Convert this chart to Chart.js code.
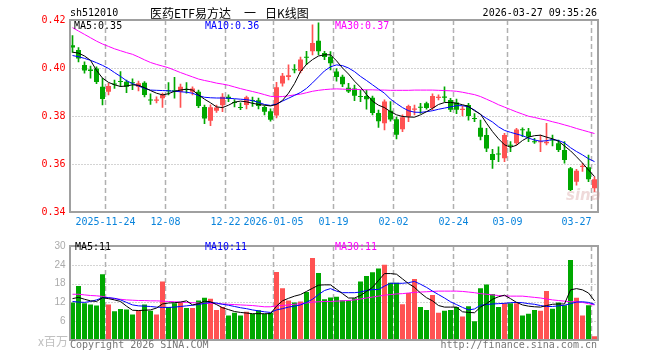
<!DOCTYPE html>
<html>
<head>
<meta charset="utf-8">
<script src="https://cdn.jsdelivr.net/npm/chart.js@4.4.1/dist/chart.umd.min.js"></script>
<style>
  body { margin: 0; background: #fff; width: 660px; height: 360px; position: relative; overflow: hidden; }
  canvas { position: absolute; left: 0; }
  .t { position: absolute; font: 10px "DejaVu Sans Mono", monospace; line-height: 12px; white-space: pre; }
  .cn { position: absolute; font: 12px "Noto Sans CJK SC", sans-serif; line-height: 14px; white-space: pre; }
</style>
</head>
<body>
<canvas id="k" width="660" height="236" style="top:0"></canvas>
<canvas id="v" width="660" height="124" style="top:236px"></canvas>

<div class="t" style="left:70px;top:7px">sh512010</div>
<div class="cn" style="left:150px;top:6px">医药ETF易方达</div>
<div class="cn" style="left:244px;top:6px">一</div>
<div class="cn" style="left:265px;top:6px">日K线图</div>
<div class="t" style="right:63px;top:7px">2026-03-27 09:35:26</div>

<div class="t" style="left:74px;top:20px;color:#000">MA5:0.35</div>
<div class="t" style="left:205px;top:20px;color:#00f">MA10:0.36</div>
<div class="t" style="left:335px;top:20px;color:#f0f">MA30:0.37</div>

<div class="t" style="left:75px;top:241px;color:#000">MA5:11</div>
<div class="t" style="left:205px;top:241px;color:#00f">MA10:11</div>
<div class="t" style="left:335px;top:241px;color:#f0f">MA30:11</div>

<div class="cn" style="left:38px;top:334px;color:#c0c0c0">x百万</div>
<div class="t" style="left:70px;top:339px;color:#777">Copyright 2026 SINA.COM</div>
<div class="t" style="right:63px;top:339px;color:#777">http://finance.sina.com.cn</div>
<div style="position:absolute;left:566px;top:186px;font:italic bold 15px 'DejaVu Sans',sans-serif;color:rgba(210,150,150,0.35)">sina</div>

<script>
// trading-day index -> axis label (only the labelled ones)
const tickIdx = [6, 16, 26, 34, 44, 54, 64, 73, 87];
const tickText = ['2025-11-24', '12-08', '12-22', '2026-01-05', '01-19', '02-02', '02-24', '03-09', '03-27'];

const opens = [
  .4095, .4075, .4013, .3994, .3998, .3922, .3901, .3935, .3946, .3943,
  .3940, .3922, .3939, .3869, .3864, .3874, .3907, .3907, .3901, .3912,
  .3901, .3901, .3838, .3780, .3822, .3845, .3880, .3858, .3837, .3846,
  .3866, .3866, .3838, .3820, .3802, .3935, .3962, .3995, .3987, .4047,
  .4070, .4114, .4063, .4047, .3985, .3964, .3918, .3915, .3883, .3883,
  .3876, .3812, .3770, .3822, .3786, .3745, .3798, .3826, .3838, .3853,
  .3833, .3875, .3881, .3867, .3856, .3825, .3846, .3792, .3751, .3721,
  .3642, .3644, .3624, .3680, .3686, .3745, .3735, .3695, .3691, .3686,
  .3702, .3686, .3658, .3582, .3526, .3588, .3586, .3499
];
const highs = [
  .4135, .4085, .4026, .4008, .4005, .3957, .3936, .3950, .3985, .3950,
  .3955, .3945, .3943, .3892, .3880, .3895, .3939, .3961, .3933, .3939,
  .3922, .3908, .3845, .3847, .3845, .3893, .3888, .3868, .3855, .3883,
  .3879, .3875, .3842, .3830, .3940, .3978, .4013, .4014, .4045, .4069,
  .4180, .4188, .4069, .4068, .3998, .3971, .3936, .3929, .3908, .3908,
  .3883, .3825, .3867, .3860, .3795, .3805, .3846, .3846, .3853, .3858,
  .3892, .3888, .3922, .3874, .3870, .3840, .3853, .3810, .3783, .3749,
  .3661, .3672, .3728, .3693, .3749, .3751, .3749, .3707, .3721, .3769,
  .3721, .3700, .3693, .3586, .3578, .3603, .3637, .3547
];
const lows = [
  .4065, .4025, .3978, .3958, .3935, .3846, .3888, .3915, .3922, .3897,
  .3910, .3905, .3880, .3848, .3855, .3836, .3888, .3874, .3836, .3895,
  .3888, .3835, .3768, .3760, .3815, .3818, .3860, .3838, .3826, .3830,
  .3840, .3830, .3805, .3778, .3792, .3924, .3950, .3979, .3979, .4014,
  .4055, .4055, .4035, .3992, .3945, .3922, .3897, .3864, .3860, .3828,
  .3804, .3752, .3742, .3778, .3705, .3735, .3776, .3804, .3811, .3828,
  .3825, .3867, .3860, .3818, .3810, .3800, .3783, .3776, .3700, .3651,
  .3582, .3610, .3610, .3651, .3679, .3714, .3693, .3686, .3651, .3679,
  .3675, .3651, .3603, .3489, .3512, .3569, .3526, .3485
];
const closes = [
  .4085, .4040, .3990, .3988, .3942, .3871, .3925, .3931, .3942, .3922,
  .3936, .3936, .3888, .3865, .3869, .3888, .3903, .3902, .3922, .3908,
  .3915, .3842, .3790, .3836, .3835, .3880, .3872, .3854, .3833, .3878,
  .3862, .3842, .3818, .3784, .3920, .3968, .3970, .3991, .4035, .4043,
  .4104, .4070, .4046, .4020, .3962, .3932, .3902, .3884, .3879, .3870,
  .3812, .3778, .3860, .3785, .3722, .3795, .3842, .3831, .3834, .3833,
  .3883, .3880, .3876, .3826, .3826, .3830, .3800, .3788, .3714, .3665,
  .3617, .3640, .3721, .3676, .3744, .3741, .3714, .3691, .3695, .3693,
  .3698, .3658, .3617, .3492, .3572, .3593, .3536, .3536
];

// moving averages
const ma5 = [
  .4066, .4062, .4050, .4032, .3990, .3958, .3940, .3930, .3923, .3925,
  .3930, .3928, .3918, .3906, .3895, .3888, .3893, .3903, .3908, .3912,
  .3908, .3888, .3870, .3855, .3838, .3835, .3845, .3858, .3862, .3859,
  .3853, .3848, .3845, .3842, .3848, .3865, .3895, .3935, .3985, .4015,
  .4035, .4050, .4055, .4055, .4030, .4000, .3975, .3945, .3920, .3890,
  .3862, .3845, .3835, .3818, .3805, .3798, .3796, .3795, .3805, .3818,
  .3832, .3848, .3856, .3857, .3853, .3847, .3840, .3822, .3808, .3770,
  .3735, .3705, .3680, .3670, .3678, .3698, .3712, .3718, .3720, .3712,
  .3705, .3695, .3675, .3655, .3630, .3604, .3575, .3548
];
const ma10 = [
  .4052, .4047, .4040, .4032, .4022, .4011, .3998, .3981, .3965, .3947,
  .3935, .3925, .3915, .3908, .3907, .3906, .3905, .3903, .3901, .3899,
  .3895, .3885, .3878, .3876, .3875, .3875, .3874, .3872, .3870, .3868,
  .3864, .3857, .3848, .3844, .3850, .3862, .3874, .3886, .3898, .3915,
  .3938, .3963, .3988, .4005, .4013, .4010, .4000, .3985, .3965, .3948,
  .3930, .3912, .3895, .3870, .3852, .3835, .3822, .3816, .3815, .3818,
  .3822, .3828, .3833, .3838, .3843, .3843, .3838, .3825, .3806, .3790,
  .3775, .3755, .3740, .3732, .3725, .3718, .3708, .3700, .3695, .3697,
  .3702, .3698, .3688, .3668, .3652, .3638, .3622, .3610
];
const ma30 = [
  .4168, .4154, .4140, .4126, .4112, .4100, .4090, .4080, .4072, .4064,
  .4057, .4046, .4034, .4023, .4015, .4008, .4001, .3991, .3981, .3972,
  .3963, .3954, .3948, .3943, .3937, .3933, .3928, .3921, .3914, .3908,
  .3902, .3896, .3889, .3882, .3880, .3881, .3884, .3888, .3891, .3897,
  .3903, .3907, .3910, .3912, .3913, .3912, .3911, .3911, .3910, .3909,
  .3909, .3908, .3908, .3907, .3907, .3907, .3907, .3908, .3908, .3908,
  .3908, .3907, .3906, .3905, .3903, .3899, .3894, .3889, .3881, .3870,
  .3859, .3847, .3837, .3827, .3817, .3808, .3799, .3794, .3788, .3783,
  .3776, .3770, .3763, .3756, .3748, .3741, .3734, .3727
];

// volume, millions
const volumes = [
  12.0, 17.2, 11.7, 11.3, 11.0, 21.0, 11.3, 9.2, 9.9, 9.7,
  8.1, 9.5, 11.3, 9.3, 8.1, 18.7, 10.5, 11.7, 12.0, 10.2,
  10.2, 12.6, 13.5, 13.2, 9.6, 10.5, 7.8, 8.7, 7.8, 9.0,
  8.3, 9.5, 8.3, 8.7, 21.7, 16.5, 12.6, 12.0, 12.3, 15.3,
  26.2, 21.4, 13.0, 13.6, 13.8, 12.7, 12.7, 13.3, 18.7, 20.4,
  21.6, 22.8, 24.0, 18.3, 18.3, 11.4, 15.0, 19.5, 10.5, 9.6,
  14.4, 8.7, 9.3, 9.6, 10.5, 7.5, 10.8, 6.0, 16.5, 17.7,
  14.7, 10.5, 11.7, 11.7, 11.7, 7.8, 8.4, 9.6, 9.3, 15.6,
  10.0, 12.0, 11.1, 25.5, 13.5, 7.8, 11.1, 1.2
];
const volMa5 = [
  13.2, 13.6, 13.0, 12.5, 12.3, 13.5, 13.2, 12.8, 12.3, 10.8,
  9.5, 9.4, 9.5, 9.6, 10.2, 11.5, 11.8, 11.9, 12.1, 12.5,
  11.2, 11.6, 12.4, 12.2, 11.3, 10.3, 9.7, 9.1, 8.8, 8.6,
  8.4, 8.4, 8.4, 8.4, 10.8, 12.5, 13.3, 14.0, 14.5, 15.5,
  16.5, 17.5, 17.6, 17.6, 16.2, 14.8, 13.4, 13.4, 14.2, 15.5,
  16.8, 19.0, 21.2, 21.2, 21.0, 19.5, 18.0, 16.8, 15.0, 13.5,
  12.5, 11.0, 10.5, 10.5, 10.5, 9.0, 8.8, 8.7, 10.5, 11.6,
  13.0, 13.8, 14.3, 13.2, 12.0, 11.2, 10.8, 10.6, 10.5, 11.0,
  11.4, 11.5, 11.5, 16.0, 16.4, 16.0, 15.0, 12.5
];
const volMa10 = [
  12.3, 12.1, 12.0, 12.3, 12.8, 13.5, 13.5, 13.3, 12.8, 12.0,
  11.2, 10.9, 10.8, 10.7, 10.5, 10.4, 10.4, 10.5, 10.7, 10.9,
  11.1, 11.3, 11.7, 12.0, 11.8, 11.4, 11.1, 10.7, 10.3, 10.0,
  9.6, 9.3, 9.0, 8.8, 9.6, 10.0, 10.5, 10.8, 11.2, 12.0,
  13.0, 14.5, 15.8, 16.4, 15.6, 15.1, 15.1, 15.1, 15.3, 15.8,
  16.1, 16.1, 17.2, 18.1, 18.1, 18.1, 18.3, 18.7, 17.8, 16.8,
  15.6, 14.5, 13.4, 12.2, 11.3, 10.4, 9.6, 9.9, 11.1, 11.3,
  11.5, 11.6, 11.7, 11.9, 12.0, 11.9, 11.6, 11.4, 11.0, 10.7,
  10.7, 10.9, 11.1, 11.6, 12.1, 12.2, 12.0, 11.4
];
const volMa30 = [
  14.6, 14.6, 14.4, 14.2, 14.1, 13.9, 13.5, 13.2, 13.0, 12.8,
  12.7, 12.6, 12.6, 12.5, 12.5, 12.4, 12.3, 12.2, 12.1, 12.0,
  11.9, 11.8, 11.7, 11.7, 11.6, 11.5, 11.4, 11.3, 11.2, 11.1,
  11.0, 10.8, 10.6, 10.6, 10.9, 11.0, 11.2, 11.4, 11.6, 11.8,
  12.1, 12.2, 12.3, 12.3, 12.4, 12.5, 12.6, 12.8, 13.1, 13.4,
  13.7, 14.0, 14.3, 14.5, 14.7, 14.8, 15.0, 15.2, 15.3, 15.4,
  15.5, 15.6, 15.6, 15.6, 15.6, 15.5, 15.3, 15.1, 14.8, 14.6,
  14.4, 14.2, 14.1, 14.0, 14.0, 14.0, 13.8, 13.6, 13.4, 13.1,
  12.8, 12.6, 12.4, 12.2, 12.2, 12.0, 11.6, 11.2
];

const RED = '#ff5252';
const GREEN = '#00a800';
const labels = opens.map((_, i) => i);
const upDown = opens.map((o, i) => closes[i] >= o ? RED : GREEN);

Chart.defaults.font.family = '"DejaVu Sans Mono", monospace';
Chart.defaults.animation = false;

function maLine(data, color) {
  return {
    type: 'line', data, borderColor: color, borderWidth: 1,
    pointRadius: 0, tension: 0, fill: false
  };
}

// dotted rows, dashed columns at labelled days, grey frame, date labels
function framePlugin(rows, withDates) {
  return {
    id: 'frame',
    beforeDatasetsDraw(chart) {
      const {ctx, chartArea: a, scales: {x, y}} = chart;
      ctx.save();
      ctx.lineWidth = 1;
      ctx.strokeStyle = '#a8a8a8';
      ctx.setLineDash([1, 2]);
      rows.forEach((v) => {
        const py = Math.round(y.getPixelForValue(v)) + 0.5;
        ctx.beginPath();
        ctx.moveTo(a.left, py);
        ctx.lineTo(a.right, py);
        ctx.stroke();
      });
      ctx.lineWidth = 1.5;
      ctx.strokeStyle = '#b0b0b0';
      ctx.setLineDash([5, 3]);
      tickIdx.forEach((i) => {
        const px = (x.getPixelForValue(i) + x.getPixelForValue(i - 1)) / 2;
        ctx.beginPath();
        ctx.moveTo(px, a.top);
        ctx.lineTo(px, a.bottom);
        ctx.stroke();
      });
      ctx.restore();
    },
    afterDatasetsDraw(chart) {
      const {ctx, chartArea: a, scales: {x}} = chart;
      ctx.save();
      ctx.lineWidth = 2;
      ctx.strokeStyle = '#a0a0a0';
      const l = Math.round(a.left), t = Math.round(a.top);
      const r = Math.round(a.right), b = Math.round(a.bottom);
      ctx.strokeRect(l, t, r - l, b - t);
      if (withDates) {
        ctx.fillStyle = '#0a84dc';
        ctx.font = '10px "DejaVu Sans Mono", monospace';
        ctx.textBaseline = 'middle';
        tickIdx.forEach((i, n) => {
          const px = (x.getPixelForValue(i) + x.getPixelForValue(i - 1)) / 2;
          ctx.textAlign = n === tickIdx.length - 1 ? 'right' : 'center';
          ctx.fillText(tickText[n], px, a.bottom + 10);
        });
      }
      ctx.restore();
    }
  };
}

new Chart(document.getElementById('k'), {
  type: 'bar',
  data: {
    labels,
    datasets: [
      maLine(ma5, '#000000'),
      maLine(ma10, '#0000ff'),
      maLine(ma30, '#ff00ff'),
      {
        data: opens.map((o, i) => [o, closes[i]]),
        backgroundColor: upDown,
        grouped: false,
        barPercentage: 5 / 6,
        categoryPercentage: 1,
        minBarLength: 1,
        borderWidth: 0
      },
      {
        data: lows.map((l, i) => [l, highs[i]]),
        backgroundColor: upDown,
        grouped: false,
        barPercentage: 1,
        categoryPercentage: 1,
        maxBarThickness: 1,
        borderWidth: 0
      }
    ]
  },
  options: {
    responsive: false,
    devicePixelRatio: 1,
    layout: {padding: {left: 0, right: 62.5, top: 20, bottom: 24}},
    plugins: {legend: {display: false}, tooltip: {enabled: false}},
    scales: {
      x: {type: 'category', offset: true, display: false},
      y: {
        min: 0.34,
        max: 0.42,
        afterFit: (s) => { s.width = 69.5; },
        grid: {display: false, drawTicks: false},
        border: {display: false},
        ticks: {
          stepSize: 0.02,
          padding: 4,
          color: '#ff0000',
          font: {size: 10},
          callback: (v) => v.toFixed(2)
        }
      }
    }
  },
  plugins: [framePlugin([0.36, 0.38, 0.40], true)]
});

new Chart(document.getElementById('v'), {
  type: 'bar',
  data: {
    labels,
    datasets: [
      maLine(volMa5, '#000000'),
      maLine(volMa10, '#0000ff'),
      maLine(volMa30, '#ff00ff'),
      {
        data: volumes,
        backgroundColor: upDown,
        grouped: false,
        barPercentage: 5 / 6,
        categoryPercentage: 1,
        borderWidth: 0
      }
    ]
  },
  options: {
    responsive: false,
    devicePixelRatio: 1,
    layout: {padding: {left: 0, right: 62.5, top: 4, bottom: 20}},
    plugins: {legend: {display: false}, tooltip: {enabled: false}},
    scales: {
      x: {type: 'category', offset: true, display: false},
      y: {
        min: 0,
        max: 30,
        afterFit: (s) => { s.width = 69.5; },
        grid: {display: false, drawTicks: false},
        border: {display: false},
        ticks: {
          stepSize: 6,
          padding: 4,
          color: '#aaaaaa',
          font: {family: '"Liberation Sans", sans-serif', size: 10},
          callback: (v) => (v === 0 ? '' : v)
        }
      }
    }
  },
  plugins: [framePlugin([6, 12, 18, 24], false)]
});
</script>
</body>
</html>
